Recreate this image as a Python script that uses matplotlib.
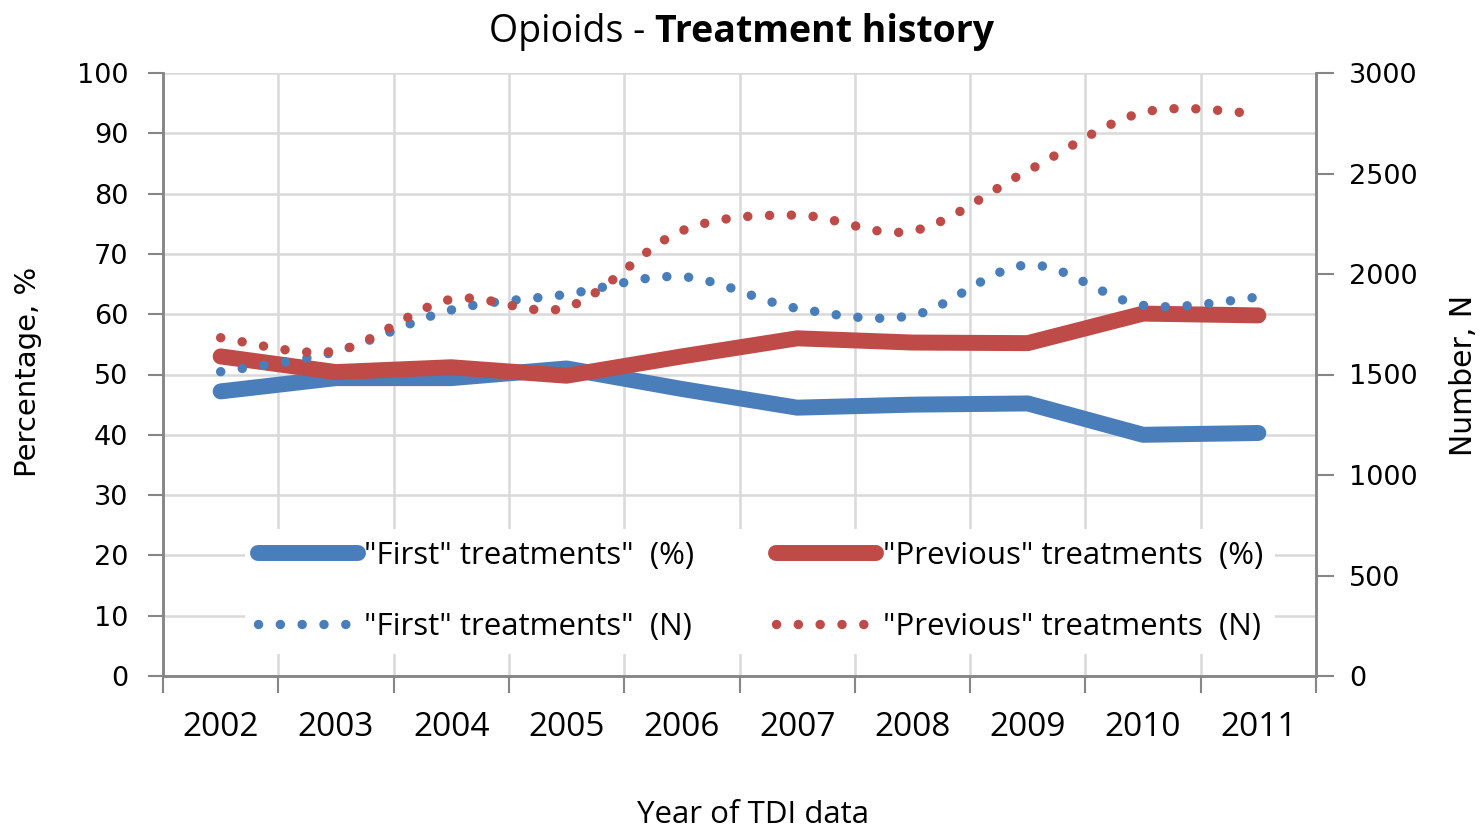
import matplotlib
matplotlib.use("Agg")
import matplotlib.pyplot as plt
import numpy as np
from matplotlib.lines import Line2D
from matplotlib.path import Path
from matplotlib.patches import PathPatch

# données
years = ["2002", "2003", "2004", "2005", "2006", "2007", "2008", "2009", "2010", "2011"]
first_pct = [47.2, 49.4, 49.4, 51.0, 47.6, 44.5, 45.0, 45.2, 40.0, 40.3]
prev_pct = [53.0, 50.4, 51.2, 49.8, 53.0, 56.0, 55.3, 55.2, 60.1, 59.8]
first_n = [1514, 1614, 1821, 1899, 1987, 1829, 1794, 2045, 1844, 1885]
prev_n = [1683, 1617, 1874, 1834, 2215, 2293, 2214, 2514, 2804, 2797]

BLUE = "#4a7ebb"
RED = "#be4b48"
AXC = "#868686"
GRID = "#d9d9d9"
TXT = "Open Sans"
NUM = "DejaVu Sans"

SOLID_LW = 11.5
DOT_LW = 6.8
DOTS = (0, (0.01, 2.3))


def smooth_path(xs, ys):
    # courbe lissée façon Excel (Bézier Catmull-Rom passant par les points)
    p = np.column_stack([xs, ys]).astype(float)
    verts = [p[0]]
    codes = [Path.MOVETO]
    n = len(p)
    for i in range(n - 1):
        p0 = p[i - 1] if i > 0 else p[i]
        p3 = p[i + 2] if i + 2 < n else p[i + 1]
        c1 = p[i] + (p[i + 1] - p0) / 6
        c2 = p[i + 1] - (p3 - p[i]) / 6
        verts += [c1, c2, p[i + 1]]
        codes += [Path.CURVE4] * 3
    return Path(verts, codes)


fig = plt.figure(figsize=(14.84, 8.32), dpi=100)
ax = fig.add_axes([163 / 1484, 1 - 676 / 832, (1316 - 163) / 1484, (676 - 73) / 832])
ax2 = ax.twinx()

x = np.arange(len(years))
ax.plot(x, first_pct, color=BLUE, lw=SOLID_LW, solid_capstyle="round", solid_joinstyle="round")
ax.plot(x, prev_pct, color=RED, lw=SOLID_LW, solid_capstyle="round", solid_joinstyle="round")

for vals, col in [(first_n, BLUE), (prev_n, RED)]:
    ax2.add_patch(PathPatch(smooth_path(x, vals), fill=False, edgecolor=col, lw=DOT_LW,
                            linestyle=DOTS, capstyle="round"))

ax.set_xlim(-0.5, len(years) - 0.5)
ax.set_ylim(0, 100)
ax2.set_ylim(0, 3000)

ax.set_xticks(x)
ax.set_xticklabels(years, fontfamily=TXT, fontsize=24)
ax.set_xticks(np.arange(-0.5, len(years), 1), minor=True)
ax.tick_params(axis="x", which="major", length=0, pad=25)
ax.tick_params(axis="x", which="minor", length=12, width=1.5, color=AXC)
ax.set_yticks(np.arange(0, 101, 10))
ax.tick_params(axis="y", length=11, width=1.5, color=AXC, pad=14, labelsize=19.5)
ax2.set_yticks(np.arange(0, 3001, 500))
ax2.tick_params(axis="y", length=13, width=1.5, color=AXC, pad=11, labelsize=19.5)
for lab in ax.get_yticklabels() + ax2.get_yticklabels():
    lab.set_fontfamily(NUM)

ax.grid(axis="x", which="minor", color=GRID, lw=1.8)
ax.grid(axis="y", which="major", color=GRID, lw=1.8)
ax.set_axisbelow(True)

for a in (ax, ax2):
    a.spines["top"].set_visible(False)
    for s in ("left", "right", "bottom"):
        a.spines[s].set_color(AXC)
        a.spines[s].set_linewidth(1.8)

handles = [
    Line2D([], [], color=BLUE, lw=SOLID_LW, solid_capstyle="round"),
    Line2D([], [], color=BLUE, lw=DOT_LW, linestyle=DOTS, dash_capstyle="round"),
    Line2D([], [], color=RED, lw=SOLID_LW, solid_capstyle="round"),
    Line2D([], [], color=RED, lw=DOT_LW, linestyle=DOTS, dash_capstyle="round"),
]
labels = ['"First" treatments"  (%)', '"First" treatments"  (N)',
          '"Previous" treatments  (%)', '"Previous" treatments  (N)']
leg = ax2.legend(handles, labels, ncol=2, loc="center", bbox_to_anchor=(0.518, 0.14),
                 prop={"family": TXT, "size": 22.5}, handlelength=3.2, handletextpad=0.22,
                 columnspacing=2.6, labelspacing=1.3, frameon=True, fancybox=False,
                 borderpad=0.4, framealpha=1)
leg.get_frame().set_facecolor("white")
leg.get_frame().set_edgecolor("none")

fig.text(28 / 1484, 1 - 372 / 832, "Percentage, %", rotation=90, ha="center", va="center",
         fontfamily=NUM, fontsize=21)
fig.text(1463 / 1484, 1 - 375 / 832, "Number, N", rotation=90, ha="center", va="center",
         fontfamily=NUM, fontsize=21.5)
fig.text(753 / 1484, 1 - 815 / 832, "Year of TDI data", ha="center", va="center",
         fontfamily=TXT, fontsize=22.5)

# titre : partie normale + partie grasse, centrées ensemble
ty = 1 - 32 / 832
t1 = fig.text(0.5, ty, "Opioids - ", ha="right", va="center", fontfamily=TXT, fontsize=27)
t2 = fig.text(0.5, ty, "Treatment history", ha="left", va="center", fontfamily=TXT,
              fontsize=27, fontweight="bold")
fig.canvas.draw()
r = fig.canvas.get_renderer()
w1 = t1.get_window_extent(r).width
w2 = t2.get_window_extent(r).width
cx = 742 + (w1 - w2) / 2
t1.set_x(cx / 1484)
t2.set_x(cx / 1484)

fig.savefig("out.png", dpi=100)
